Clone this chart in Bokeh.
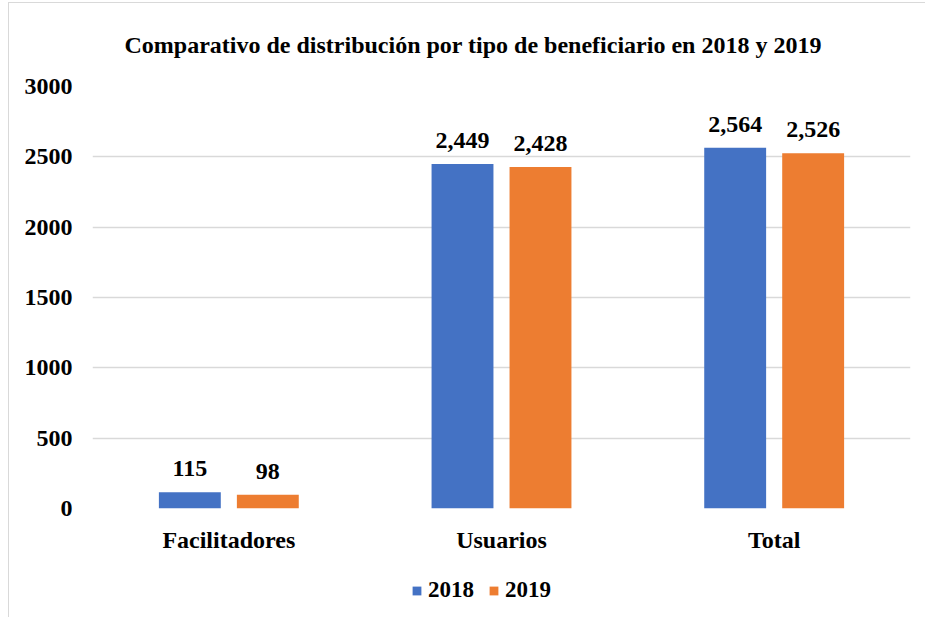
from bokeh.plotting import figure
from bokeh.layouts import column
from bokeh.models import ColumnDataSource, FactorRange, FixedTicker, Legend, LegendItem, LabelSet
from bokeh.transform import dodge
from bokeh.embed import file_html
from bokeh.resources import INLINE

categories = ["Facilitadores", "Usuarios", "Total"]
years = ["2018", "2019"]
values_2018 = [115, 2449, 2564]
values_2019 = [98, 2428, 2526]
y_ticks = [0, 500, 1000, 1500, 2000, 2500, 3000]

blue = "#4472C4"
orange = "#ED7D31"
font = "Liberation Serif"

src = ColumnDataSource(dict(
    cat=categories,
    v18=values_2018,
    v19=values_2019,
    l18=[f"{v:,}" for v in values_2018],
    l19=[f"{v:,}" for v in values_2019],
))

p = figure(width=925, height=565, x_range=FactorRange(*categories, range_padding=0),
           y_range=(0, 3000), output_backend="svg", toolbar_location=None,
           min_border_left=92, min_border_right=15, min_border_top=86, min_border_bottom=57)
p.border_fill_alpha = 0
p.background_fill_alpha = 0

p.title.text = "Comparativo de distribución por tipo de beneficiario en 2018 y 2019"
p.title.align = "left"
p.title.text_font = font
p.title.text_font_size = "24px"
p.title.text_font_style = "bold"
p.title.text_color = "black"
p.title.standoff = 58
p.title.offset = 32

r1 = p.vbar(x=dodge("cat", -0.143, range=p.x_range), top="v18", width=0.227, source=src,
            color=blue, line_color=None)
r2 = p.vbar(x=dodge("cat", 0.143, range=p.x_range), top="v19", width=0.227, source=src,
            color=orange, line_color=None)

for xo, col, top in [(-0.143, "l18", "v18"), (0.143, "l19", "v19")]:
    lbl = LabelSet(x=dodge("cat", xo, range=p.x_range), y=top, text=col, source=src,
                   text_align="center", text_baseline="bottom", y_offset=16,
                   text_font=font, text_font_size="24px", text_font_style="bold",
                   text_color="black")
    p.add_layout(lbl)

p.yaxis.ticker = FixedTicker(ticks=y_ticks)
for ax in (p.xaxis, p.yaxis):
    ax.axis_line_color = None
    ax.major_tick_line_color = None
    ax.minor_tick_line_color = None
    ax.major_tick_out = 0
    ax.major_tick_in = 0
    ax.minor_tick_out = 0
    ax.major_label_text_font = font
    ax.major_label_text_font_size = "24px"
    ax.major_label_text_font_style = "bold"
    ax.major_label_text_color = "black"
p.yaxis.major_label_standoff = 20
p.xaxis.major_label_standoff = 18

p.xgrid.grid_line_color = None
p.ygrid.grid_line_color = "#d9d9d9"
p.ygrid.grid_line_width = 1.5
p.outline_line_color = None

# legend strip below the chart (hidden stand-in renderers carry the legend swatches)
lg = figure(width=925, height=52, x_range=(0, 1), y_range=(0, 1), output_backend="svg",
            toolbar_location=None, min_border=0)
lg.border_fill_alpha = 0
lg.background_fill_alpha = 0
lg.axis.visible = False
lg.grid.grid_line_color = None
lg.outline_line_color = None
d1 = lg.vbar(x=[0.5], top=[1], width=1, color=blue, line_color=None, visible=False)
d2 = lg.vbar(x=[0.5], top=[1], width=1, color=orange, line_color=None, visible=False)
legend = Legend(items=[LegendItem(label=years[0], renderers=[d1]),
                       LegendItem(label=years[1], renderers=[d2])],
                orientation="horizontal", location=(319, 14),
                glyph_width=11, glyph_height=11, label_standoff=6, spacing=14,
                label_text_font=font, label_text_font_size="23px", label_text_font_style="bold",
                label_text_color="black",
                border_line_color=None, background_fill_alpha=0, margin=0, padding=0)
lg.add_layout(legend, "center")

layout = column(p, lg, spacing=0)
layout.styles = {
    "background": "linear-gradient(#d9d9d9, #d9d9d9) 8px 2px / 1px 100% no-repeat, "
                  "linear-gradient(#d9d9d9, #d9d9d9) 8px 2px / 100% 1px no-repeat, white",
}
open("out.html", "w").write(file_html(layout, INLINE))
